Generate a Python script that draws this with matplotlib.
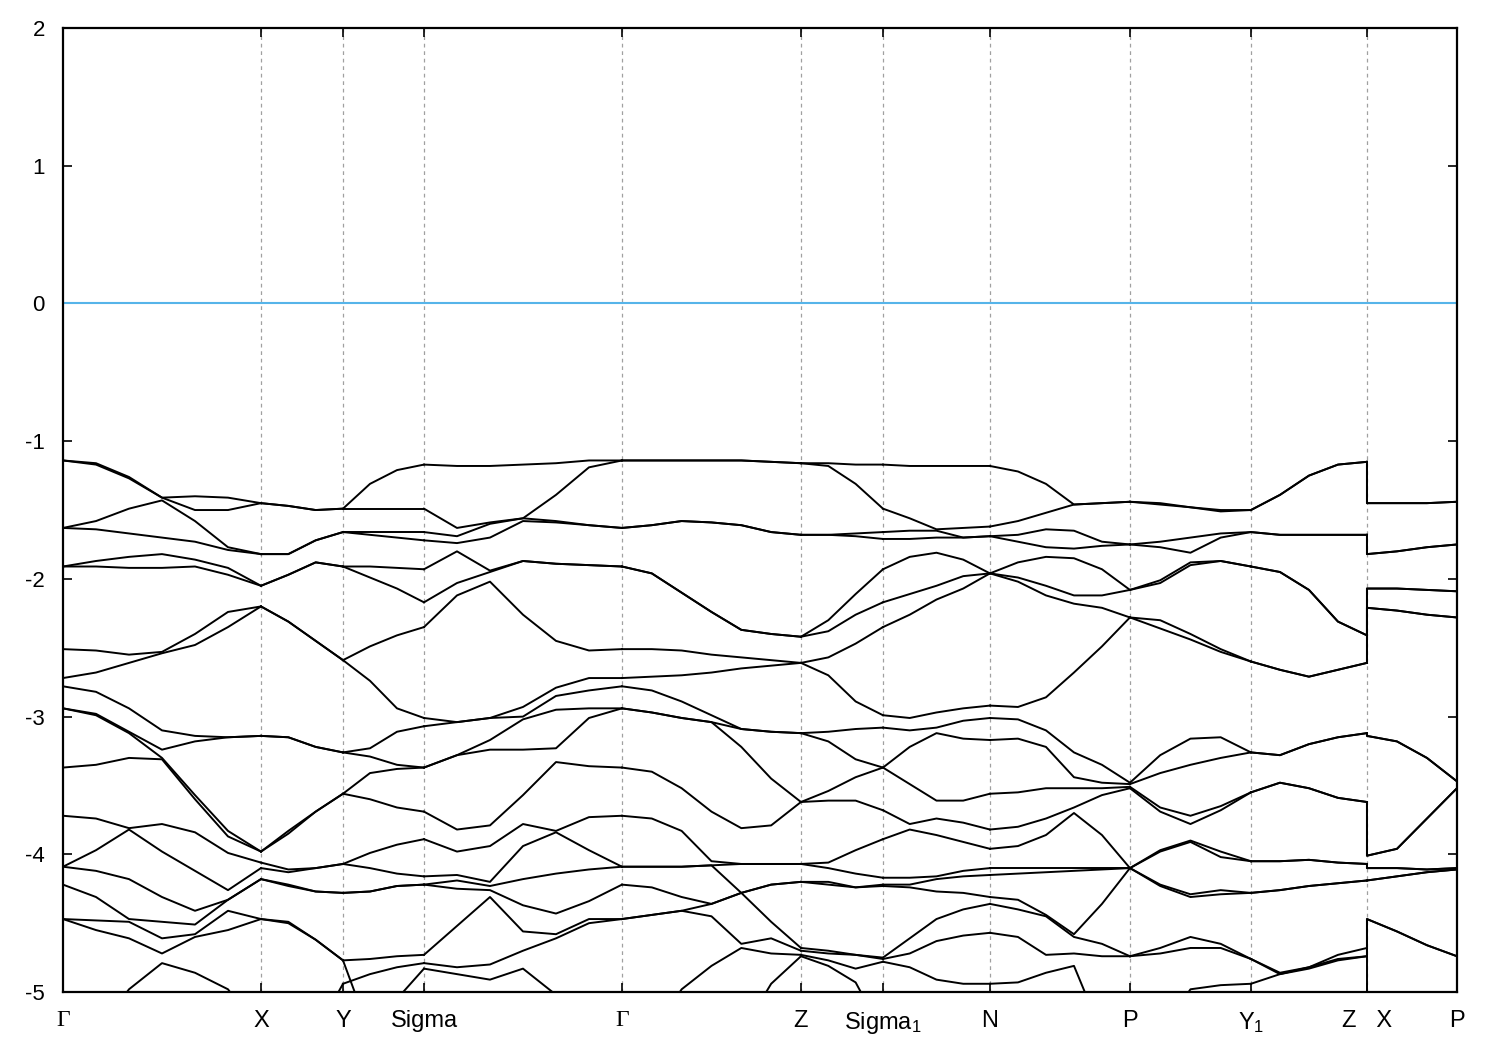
import numpy as np
import matplotlib
matplotlib.use('Agg')
import matplotlib.pyplot as plt

plt.rcParams['font.family'] = ['Liberation Sans', 'DejaVu Sans']
plt.rcParams['mathtext.default'] = 'regular'
plt.rcParams['axes.unicode_minus'] = False

# high-symmetry points along the k-path
kpoint_pos = [0.0, 0.198, 0.280, 0.361, 0.559, 0.738, 0.820, 0.927, 1.067, 1.188, 1.304, 1.394]
kpoint_labels = ['Γ', 'X', 'Y', 'Sigma', 'Γ', 'Z', 'Sigma$_1$', 'N', 'P', 'Y$_1$', 'Z   X', 'P']

# band energies (eV), one row per k column of a segment, bands ordered top to bottom
band_gamma_x = [
    [-1.14, -1.14, -1.63, -1.63, -1.91, -1.91, -2.51, -2.72, -2.78, -2.94, -2.94, -3.37, -3.72, -4.09, -4.09, -4.22, -4.47, -4.47, -5.3],
    [-1.16, -1.17, -1.58, -1.64, -1.87, -1.91, -2.52, -2.68, -2.82, -2.98, -2.99, -3.35, -3.74, -3.97, -4.12, -4.31, -4.48, -4.55, -5.3],
    [-1.26, -1.27, -1.49, -1.67, -1.84, -1.92, -2.55, -2.61, -2.94, -3.11, -3.12, -3.30, -3.81, -3.82, -4.18, -4.47, -4.49, -4.61, -4.98],
    [-1.41, -1.41, -1.43, -1.70, -1.82, -1.92, -2.53, -2.54, -3.10, -3.24, -3.30, -3.31, -3.78, -3.98, -4.31, -4.49, -4.61, -4.72, -4.79],
    [-1.40, -1.50, -1.58, -1.73, -1.86, -1.91, -2.40, -2.48, -3.14, -3.18, -3.57, -3.60, -3.84, -4.12, -4.41, -4.51, -4.58, -4.60, -4.86],
    [-1.41, -1.50, -1.77, -1.79, -1.92, -1.97, -2.24, -2.35, -3.15, -3.15, -3.83, -3.87, -3.99, -4.26, -4.33, -4.33, -4.41, -4.55, -4.98],
    [-1.45, -1.45, -1.82, -1.82, -2.05, -2.05, -2.20, -2.20, -3.14, -3.14, -3.98, -3.98, -4.06, -4.10, -4.18, -4.18, -4.47, -4.47, -5.3],
]
band_x_y = [
    [-1.45, -1.45, -1.82, -1.82, -2.05, -2.05, -2.20, -2.20, -3.14, -3.14, -3.98, -3.98, -4.06, -4.10, -4.18, -4.18, -4.47, -4.47, -5.3],
    [-1.47, -1.47, -1.82, -1.82, -1.97, -1.97, -2.31, -2.31, -3.15, -3.15, -3.83, -3.85, -4.11, -4.13, -4.22, -4.23, -4.49, -4.50, -5.3],
    [-1.50, -1.50, -1.72, -1.72, -1.88, -1.88, -2.45, -2.45, -3.22, -3.22, -3.69, -3.69, -4.10, -4.10, -4.27, -4.27, -4.62, -4.62, -5.3],
    [-1.49, -1.49, -1.66, -1.66, -1.91, -1.91, -2.59, -2.59, -3.26, -3.26, -3.56, -3.56, -4.07, -4.07, -4.28, -4.28, -4.77, -4.77, -4.94],
]
band_y_sigma = [
    [-1.49, -1.49, -1.66, -1.66, -1.91, -1.91, -2.59, -2.59, -3.26, -3.26, -3.56, -3.56, -4.07, -4.07, -4.28, -4.28, -4.77, -4.94, -4.77],
    [-1.31, -1.49, -1.66, -1.68, -1.91, -1.99, -2.49, -2.74, -3.23, -3.29, -3.41, -3.60, -3.99, -4.10, -4.27, -4.27, -4.76, -4.87, -5.3],
    [-1.21, -1.49, -1.66, -1.70, -1.92, -2.07, -2.41, -2.94, -3.11, -3.35, -3.38, -3.66, -3.93, -4.14, -4.23, -4.23, -4.74, -4.82, -5.05],
    [-1.17, -1.49, -1.66, -1.72, -1.93, -2.17, -2.35, -3.01, -3.07, -3.37, -3.37, -3.69, -3.89, -4.16, -4.22, -4.22, -4.73, -4.79, -4.83],
]
band_sigma_gamma = [
    [-1.17, -1.49, -1.66, -1.72, -1.93, -2.17, -2.35, -3.01, -3.07, -3.37, -3.37, -3.69, -3.89, -4.16, -4.22, -4.22, -4.73, -4.79, -4.83],
    [-1.18, -1.63, -1.69, -1.74, -1.80, -2.03, -2.12, -3.04, -3.04, -3.28, -3.28, -3.82, -3.98, -4.15, -4.19, -4.25, -4.52, -4.82, -4.87],
    [-1.18, -1.59, -1.60, -1.70, -1.94, -1.95, -2.02, -3.01, -3.01, -3.17, -3.24, -3.79, -3.94, -4.20, -4.23, -4.26, -4.31, -4.80, -4.91],
    [-1.17, -1.56, -1.56, -1.58, -1.87, -1.87, -2.26, -2.93, -3.00, -3.02, -3.24, -3.57, -3.78, -3.94, -4.18, -4.37, -4.56, -4.70, -4.83],
    [-1.16, -1.39, -1.58, -1.59, -1.89, -1.89, -2.45, -2.79, -2.85, -2.95, -3.23, -3.33, -3.83, -3.84, -4.14, -4.43, -4.58, -4.61, -5.02],
    [-1.14, -1.19, -1.61, -1.61, -1.90, -1.90, -2.52, -2.72, -2.81, -2.94, -3.01, -3.36, -3.73, -3.97, -4.11, -4.34, -4.47, -4.50, -5.3],
    [-1.14, -1.14, -1.63, -1.63, -1.91, -1.91, -2.51, -2.72, -2.78, -2.94, -2.94, -3.37, -3.72, -4.09, -4.09, -4.22, -4.47, -4.47, -5.3],
]
band_gamma_z = [
    [-1.14, -1.14, -1.63, -1.63, -1.91, -1.91, -2.51, -2.72, -2.78, -2.94, -2.94, -3.37, -3.72, -4.09, -4.09, -4.22, -4.47, -4.47, -5.3, -5.3],
    [-1.14, -1.14, -1.61, -1.61, -1.96, -1.96, -2.51, -2.71, -2.81, -2.97, -2.97, -3.40, -3.74, -4.09, -4.09, -4.24, -4.44, -4.44, -5.3, -5.3],
    [-1.14, -1.14, -1.58, -1.58, -2.10, -2.10, -2.52, -2.70, -2.89, -3.01, -3.01, -3.52, -3.83, -4.09, -4.09, -4.31, -4.41, -4.41, -4.98, -5.3],
    [-1.14, -1.14, -1.59, -1.59, -2.24, -2.24, -2.55, -2.68, -2.99, -3.04, -3.04, -3.69, -4.05, -4.08, -4.08, -4.36, -4.36, -4.45, -4.81, -5.3],
    [-1.14, -1.14, -1.61, -1.61, -2.37, -2.37, -2.57, -2.65, -3.09, -3.09, -3.22, -3.81, -4.07, -4.07, -4.28, -4.28, -4.28, -4.65, -4.68, -5.3],
    [-1.15, -1.15, -1.66, -1.66, -2.40, -2.40, -2.59, -2.63, -3.11, -3.11, -3.45, -3.79, -4.07, -4.07, -4.22, -4.22, -4.49, -4.61, -4.72, -4.94],
    [-1.16, -1.16, -1.68, -1.68, -2.42, -2.42, -2.61, -2.61, -3.12, -3.12, -3.62, -3.62, -4.07, -4.07, -4.20, -4.20, -4.68, -4.70, -4.73, -4.74],
]
band_z_sigma1 = [
    [-1.16, -1.16, -1.68, -1.68, -2.42, -2.42, -2.61, -2.61, -3.12, -3.12, -3.62, -3.62, -4.07, -4.07, -4.20, -4.20, -4.68, -4.70, -4.73, -4.74],
    [-1.16, -1.18, -1.68, -1.68, -2.30, -2.38, -2.57, -2.70, -3.11, -3.18, -3.54, -3.61, -4.06, -4.10, -4.20, -4.22, -4.70, -4.72, -4.77, -4.81],
    [-1.17, -1.31, -1.67, -1.69, -2.11, -2.26, -2.47, -2.89, -3.09, -3.31, -3.44, -3.61, -3.97, -4.14, -4.24, -4.24, -4.73, -4.73, -4.83, -4.93],
    [-1.17, -1.49, -1.66, -1.71, -1.93, -2.17, -2.35, -2.99, -3.08, -3.37, -3.37, -3.68, -3.89, -4.17, -4.22, -4.23, -4.75, -4.76, -4.78, -5.3],
]
band_sigma1_n = [
    [-1.17, -1.49, -1.66, -1.71, -1.93, -2.17, -2.35, -2.99, -3.08, -3.37, -3.37, -3.68, -3.89, -4.17, -4.22, -4.23, -4.75, -4.76, -4.78],
    [-1.18, -1.56, -1.65, -1.71, -1.84, -2.11, -2.26, -3.01, -3.10, -3.22, -3.49, -3.78, -3.82, -4.17, -4.22, -4.24, -4.61, -4.72, -4.82],
    [-1.18, -1.64, -1.65, -1.70, -1.81, -2.05, -2.15, -2.97, -3.08, -3.12, -3.61, -3.74, -3.86, -4.16, -4.18, -4.27, -4.47, -4.63, -4.91],
    [-1.18, -1.63, -1.70, -1.70, -1.86, -1.98, -2.07, -2.94, -3.03, -3.16, -3.61, -3.77, -3.91, -4.12, -4.16, -4.28, -4.40, -4.59, -4.94],
    [-1.18, -1.62, -1.69, -1.69, -1.96, -1.96, -1.96, -2.92, -3.01, -3.17, -3.56, -3.82, -3.96, -4.10, -4.15, -4.31, -4.36, -4.57, -4.94],
]
band_n_p = [
    [-1.18, -1.62, -1.69, -1.69, -1.96, -1.96, -1.96, -2.92, -3.01, -3.17, -3.56, -3.82, -3.96, -4.10, -4.15, -4.31, -4.36, -4.57, -4.94],
    [-1.22, -1.58, -1.68, -1.73, -1.88, -1.99, -2.02, -2.93, -3.02, -3.16, -3.55, -3.80, -3.94, -4.10, -4.14, -4.33, -4.40, -4.60, -4.93],
    [-1.31, -1.52, -1.64, -1.77, -1.84, -2.05, -2.12, -2.86, -3.10, -3.22, -3.52, -3.74, -3.86, -4.10, -4.13, -4.44, -4.45, -4.73, -4.86],
    [-1.46, -1.46, -1.65, -1.78, -1.85, -2.12, -2.18, -2.68, -3.26, -3.44, -3.52, -3.66, -3.70, -4.10, -4.12, -4.58, -4.60, -4.72, -4.81],
    [-1.45, -1.45, -1.73, -1.76, -1.93, -2.12, -2.21, -2.49, -3.35, -3.48, -3.52, -3.57, -3.86, -4.10, -4.11, -4.36, -4.65, -4.74, -5.3],
    [-1.44, -1.44, -1.75, -1.75, -2.08, -2.08, -2.28, -2.28, -3.48, -3.49, -3.51, -3.52, -4.10, -4.10, -4.10, -4.10, -4.74, -4.74, -5.3],
]
band_p_y1 = [
    [-1.44, -1.44, -1.75, -1.75, -2.08, -2.08, -2.28, -2.28, -3.48, -3.49, -3.51, -3.52, -4.10, -4.10, -4.10, -4.10, -4.74, -4.74, -5.3],
    [-1.45, -1.46, -1.73, -1.77, -2.01, -2.03, -2.30, -2.36, -3.28, -3.41, -3.66, -3.69, -3.97, -3.98, -4.22, -4.23, -4.68, -4.72, -5.3],
    [-1.48, -1.48, -1.70, -1.81, -1.88, -1.90, -2.40, -2.44, -3.16, -3.35, -3.72, -3.78, -3.90, -3.91, -4.29, -4.31, -4.60, -4.68, -4.98],
    [-1.50, -1.51, -1.67, -1.70, -1.87, -1.87, -2.51, -2.53, -3.15, -3.30, -3.65, -3.68, -3.98, -4.02, -4.26, -4.29, -4.65, -4.68, -4.95],
    [-1.50, -1.50, -1.66, -1.66, -1.91, -1.91, -2.60, -2.60, -3.26, -3.26, -3.55, -3.55, -4.05, -4.05, -4.28, -4.28, -4.76, -4.76, -4.94],
]
band_y1_z = [
    [-1.50, -1.50, -1.66, -1.66, -1.91, -1.91, -2.60, -2.60, -3.26, -3.26, -3.55, -3.55, -4.05, -4.05, -4.28, -4.28, -4.76, -4.76, -4.94],
    [-1.39, -1.39, -1.68, -1.68, -1.95, -1.95, -2.66, -2.66, -3.28, -3.28, -3.48, -3.48, -4.05, -4.05, -4.26, -4.26, -4.86, -4.87, -4.87],
    [-1.25, -1.25, -1.68, -1.68, -2.08, -2.08, -2.71, -2.71, -3.20, -3.20, -3.52, -3.52, -4.04, -4.04, -4.23, -4.23, -4.82, -4.82, -4.83],
    [-1.17, -1.17, -1.68, -1.68, -2.31, -2.31, -2.66, -2.66, -3.15, -3.15, -3.59, -3.59, -4.06, -4.06, -4.21, -4.21, -4.73, -4.76, -4.77],
    [-1.15, -1.15, -1.68, -1.68, -2.41, -2.41, -2.61, -2.61, -3.12, -3.12, -3.62, -3.62, -4.07, -4.07, -4.19, -4.19, -4.68, -4.74, -4.74],
]
# first row is the Z end of the previous segment (drawn as the jump at Z|X)
band_x_p = [
    [-1.15, -1.15, -1.68, -1.68, -2.41, -2.41, -2.61, -2.61, -3.12, -3.12, -3.62, -3.62, -4.07, -4.07, -4.19, -4.19, -4.68, -4.74, -4.74],
    [-1.45, -1.45, -1.82, -1.82, -2.07, -2.07, -2.21, -2.21, -3.14, -3.14, -4.01, -4.01, -4.10, -4.10, -4.19, -4.19, -5.3, -4.47, -4.47],
    [-1.45, -1.45, -1.80, -1.80, -2.07, -2.07, -2.23, -2.23, -3.18, -3.18, -3.96, -3.96, -4.10, -4.10, -4.16, -4.16, -5.3, -4.56, -4.56],
    [-1.45, -1.45, -1.77, -1.77, -2.08, -2.08, -2.26, -2.26, -3.30, -3.30, -3.74, -3.74, -4.11, -4.11, -4.13, -4.13, -5.3, -4.66, -4.66],
    [-1.44, -1.44, -1.75, -1.75, -2.09, -2.09, -2.28, -2.28, -3.47, -3.47, -3.52, -3.52, -4.10, -4.10, -4.11, -4.11, -5.3, -4.74, -4.74],
]

segments = [
    (0, 1, band_gamma_x),
    (1, 2, band_x_y),
    (2, 3, band_y_sigma),
    (3, 4, band_sigma_gamma),
    (4, 5, band_gamma_z),
    (5, 6, band_z_sigma1),
    (6, 7, band_sigma1_n),
    (7, 8, band_n_p),
    (8, 9, band_p_y1),
    (9, 10, band_y1_z),
]

fig = plt.figure(figsize=(15, 10.5), dpi=100)
ax = fig.add_axes([0.042, 0.0552, 0.9293, 0.9181])

for a, b, cols in segments:
    energies = np.array(cols)
    k = np.linspace(kpoint_pos[a], kpoint_pos[b], len(cols))
    for band in energies.T:
        ax.plot(k, band, color='black', lw=1.4, zorder=3)

# X-P leg, starting with the vertical jump at Z|X
energies = np.array(band_x_p)
k = np.concatenate([[kpoint_pos[10]], np.linspace(kpoint_pos[10], kpoint_pos[11], len(band_x_p) - 1)])
for band in energies.T:
    ax.plot(k, band, color='black', lw=1.4, zorder=3)

# Fermi level
ax.axhline(0, color='#56b4e9', lw=1.5, zorder=2)

# dashed lines at the high-symmetry points
for x in kpoint_pos[1:-1]:
    ax.axvline(x, color='#a0a0a0', lw=0.9, ls=(0, (3, 3)), zorder=1)

ax.set_xlim(kpoint_pos[0], kpoint_pos[-1])
ax.set_ylim(-5, 2)
ax.set_yticks(range(-5, 3))
ax.set_yticklabels([str(v) for v in range(-5, 3)])
ax.set_xticks(kpoint_pos)
ax.set_xticklabels(kpoint_labels)
for lab in ax.get_xticklabels():
    if lab.get_text() == 'Γ':
        lab.set_fontfamily(['Liberation Serif', 'DejaVu Serif'])

ax.tick_params(axis='both', direction='in', length=6.5, width=1.2,
               top=True, right=True, color='black')
ax.tick_params(axis='x', pad=13, labelsize=17)
ax.tick_params(axis='y', pad=13, labelsize=16)
for sp in ax.spines.values():
    sp.set_linewidth(1.6)

fig.savefig('out.png', dpi=100)
